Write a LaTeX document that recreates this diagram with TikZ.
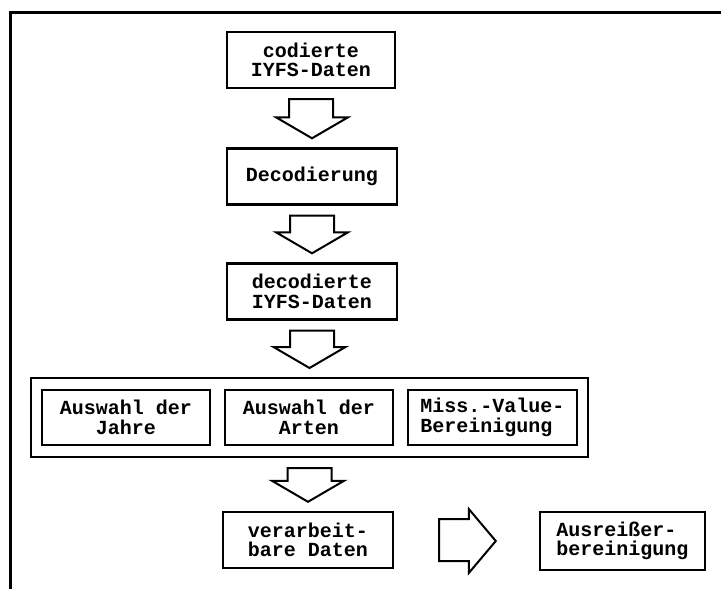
\documentclass[tikz,border=0pt]{standalone}
\usepackage{fontspec}
\setmainfont{Liberation Mono}
\usetikzlibrary{calc,fit}
\newcommand{\blockdown}[2]{\draw[blockarrow] ($(#1.south)+(-22,10)$) |- ($(#2.north)+(-36,-30)$) -- ($(#2.north)+(0,-9)$) -- ($(#2.north)+(36,-30)$) -| ($(#1.south)+(22,10)$) -- cycle;}
\newcommand{\blockright}[2]{\draw[blockarrow] ($(#1.east)+(45,-21)$) -| ($(#2.west)+(-70,-32)$) -- ($(#2.west)+(-43,0)$) -- ($(#2.west)+(-70,32)$) |- ($(#1.east)+(45,21)$) -- cycle;}
\begin{document}
\begin{tikzpicture}[x=1pt,y=-1pt,font=\fontsize{20}{19.5}\selectfont\bfseries,
  box/.style={draw,line width=2.4pt,minimum width=168pt,minimum height=56pt,align=center,inner sep=2pt},
  blockarrow/.style={draw,line width=2pt,fill=white}]
\useasboundingbox (0,0) rectangle (721,589);
\draw[line width=3pt] (10,589)--(10,12)--(721,12);
\node[box] (cod) at (311,60) {codierte\\IYFS-Daten};
\node[box,minimum width=170pt] (dec) at (312,176.5) {Decodierung};
\node[box,minimum width=170pt] (decdat) at (312,291.5) {decodierte\\IYFS-Daten};
\node[box,minimum height=55pt] (jahre) at (126,417.5) {Auswahl der\\Jahre};
\node[box,minimum height=55pt] (arten) at (309,417.5) {Auswahl der\\Arten};
\node[box,minimum height=55pt,minimum width=169pt,align=left] (miss) at (492.5,417.5) {Miss.-Value-\\Bereinigung};
\node[draw,line width=1.6pt,inner xsep=10pt,inner ysep=11pt,fit=(jahre)(arten)(miss)] (wahl) {};
\node[box,minimum width=170pt] (verarb) at (308,540) {verarbeit-\\bare Daten};
\node[box,minimum width=165pt,minimum height=58pt,align=left] (ausr) at (622.5,541) {Ausreißer-\\bereinigung};
\blockdown{cod}{dec}
\blockdown{dec}{decdat}
\blockdown{decdat}{wahl}
\blockdown{wahl}{verarb}
\blockright{verarb}{ausr}
\end{tikzpicture}
\end{document}
